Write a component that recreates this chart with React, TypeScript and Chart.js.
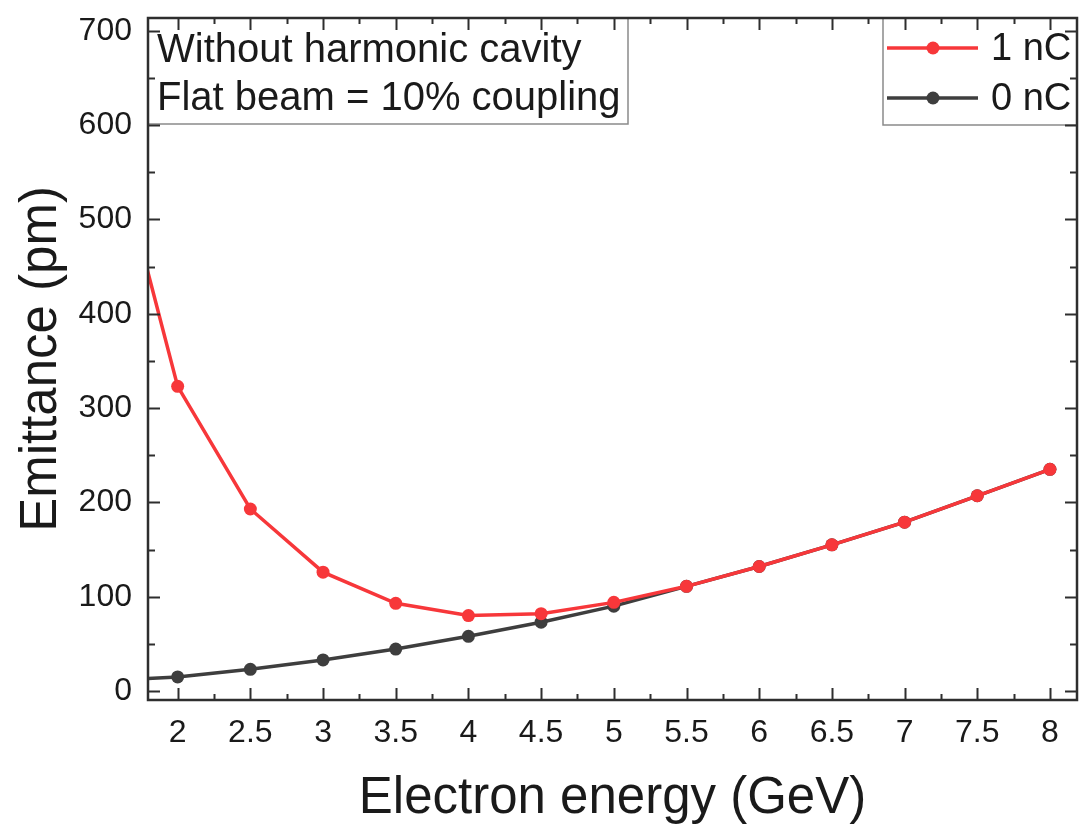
import React, { useEffect, useRef } from "react";
import { Chart, registerables } from "chart.js";

Chart.register(...registerables);

const ENERGY = [1.5, 2, 2.5, 3, 3.5, 4, 4.5, 5, 5.5, 6, 6.5, 7, 7.5, 8];
const EMIT_1NC = [619, 323, 193, 126, 93, 80, 82, 94, 111, 132, 155, 179, 207, 235];
const EMIT_0NC = [11, 15, 23, 33, 44.5, 58, 73, 90, 111, 132, 155, 179, 207, 235];
const SERIES_NAMES = ["1 nC", "0 nC"];
const NOTE_LINES = ["Without harmonic cavity", "Flat beam = 10% coupling"];
const X_TITLE = "Electron energy (GeV)";
const Y_TITLE = "Emittance (pm)";

const RED = "#F7373A";
const GRAY = "#3E3E3E";
const AXIS = "#2E2E2E";
const FONT = "'Liberation Sans', Arial, sans-serif";

const framePlugin = {
  id: "framePlugin",
  afterDraw(chart: any) {
    const { ctx, chartArea } = chart;
    const { left, right, top, bottom } = chartArea;
    const xs = chart.scales.x;
    const ys = chart.scales.y;
    ctx.save();

    // note box
    ctx.fillStyle = "#fff";
    ctx.fillRect(left, top, 628 - left, 124 - top);
    ctx.strokeStyle = "#8a8a8a";
    ctx.lineWidth = 1.5;
    ctx.strokeRect(left, top, 628 - left, 124 - top);
    ctx.fillStyle = "#1a1a1a";
    ctx.font = `40px ${FONT}`;
    ctx.textBaseline = "alphabetic";
    ctx.textAlign = "left";
    NOTE_LINES.forEach((t, i) => ctx.fillText(t, 157, 62 + i * 48));

    // legend box
    const lx = 883;
    ctx.fillStyle = "#fff";
    ctx.fillRect(lx, top, right - lx, 125 - top);
    ctx.strokeStyle = "#8a8a8a";
    ctx.strokeRect(lx, top, right - lx, 125 - top);
    chart.data.datasets.forEach((ds: any, i: number) => {
      const cy = 48 + i * 50;
      ctx.strokeStyle = ds.borderColor;
      ctx.lineWidth = 3.5;
      ctx.beginPath();
      ctx.moveTo(887, cy);
      ctx.lineTo(978, cy);
      ctx.stroke();
      ctx.fillStyle = ds.backgroundColor;
      ctx.beginPath();
      ctx.arc(933, cy, 6.5, 0, Math.PI * 2);
      ctx.fill();
      ctx.fillStyle = "#1a1a1a";
      ctx.font = `38px ${FONT}`;
      ctx.textBaseline = "middle";
      ctx.fillText(ds.label, 991, cy + 2);
    });

    // frame
    ctx.strokeStyle = AXIS;
    ctx.lineWidth = 2.5;
    ctx.strokeRect(left, top, right - left, bottom - top);

    // ticks (inward, mirrored)
    ctx.lineWidth = 2;
    const xStep = 0.25;
    for (let k = Math.ceil(xs.min / xStep); k <= Math.floor(xs.max / xStep); k++) {
      const px = Math.round(xs.getPixelForValue(k * xStep)) + 0.5;
      const len = k % 2 === 0 ? 12 : 6;
      ctx.beginPath();
      ctx.moveTo(px, bottom);
      ctx.lineTo(px, bottom - len);
      ctx.moveTo(px, top);
      ctx.lineTo(px, top + len);
      ctx.stroke();
    }
    const yStep = 50;
    for (let k = Math.ceil(ys.min / yStep); k <= Math.floor(ys.max / yStep); k++) {
      const py = Math.round(ys.getPixelForValue(k * yStep)) + 0.5;
      const len = k % 2 === 0 ? 12 : 7;
      ctx.beginPath();
      ctx.moveTo(left, py);
      ctx.lineTo(left + len, py);
      ctx.moveTo(right, py);
      ctx.lineTo(right - len, py);
      ctx.stroke();
    }
    ctx.restore();
  },
};

function zeroPad(scale: any) {
  scale.paddingLeft = 0;
  scale.paddingRight = 0;
  scale.paddingTop = 0;
  scale.paddingBottom = 0;
}

export default function App() {
  const ref = useRef<HTMLCanvasElement | null>(null);
  useEffect(() => {
    if (!ref.current) return;
    const chart = new Chart(ref.current, {
      type: "line",
      data: {
        datasets: [
          {
            label: SERIES_NAMES[0],
            data: ENERGY.map((x, i) => ({ x, y: EMIT_1NC[i] })),
            borderColor: RED,
            backgroundColor: RED,
            borderWidth: 3.5,
            pointRadius: 6.5,
            pointHoverRadius: 6.5,
            pointBorderWidth: 0,
            tension: 0,
          },
          {
            label: SERIES_NAMES[1],
            data: ENERGY.map((x, i) => ({ x, y: EMIT_0NC[i] })),
            borderColor: GRAY,
            backgroundColor: GRAY,
            borderWidth: 3.5,
            pointRadius: 6.5,
            pointHoverRadius: 6.5,
            pointBorderWidth: 0,
            tension: 0,
          },
        ],
      },
      options: {
        animation: false,
        responsive: false,
        maintainAspectRatio: false,
        layout: { autoPadding: false, padding: { top: 18, right: 2, left: 0, bottom: 0 } },
        plugins: { legend: { display: false }, tooltip: { enabled: false } },
        scales: {
          x: {
            type: "linear",
            min: 1.796,
            max: 8.186,
            grid: { display: false, drawTicks: false },
            border: { display: false },
            ticks: {
              stepSize: 0.5,
              includeBounds: false,
              autoSkip: false,
              maxRotation: 0,
              padding: 14,
              color: "#1a1a1a",
              font: { family: FONT, size: 32 },
              callback: (v: any) => String(Math.round(Number(v) * 10) / 10),
            },
            title: {
              display: true,
              text: X_TITLE,
              color: "#1a1a1a",
              font: { family: FONT, size: 51, lineHeight: 1 },
              padding: 0,
            },
            afterFit(scale: any) {
              scale.height = 124;
              zeroPad(scale);
            },
          },
          y: {
            type: "linear",
            min: -9.5,
            max: 713.5,
            grid: { display: false, drawTicks: false },
            border: { display: false },
            ticks: {
              stepSize: 100,
              includeBounds: false,
              padding: 16,
              color: "#1a1a1a",
              font: { family: FONT, size: 32 },
              callback: (v: any) => String(Math.round(Number(v))),
            },
            title: {
              display: true,
              text: Y_TITLE,
              color: "#1a1a1a",
              font: { family: FONT, size: 51, lineHeight: 1.2 },
              padding: { top: 11, bottom: 0 },
            },
            afterFit(scale: any) {
              scale.width = 148;
              zeroPad(scale);
            },
          },
        },
      },
      plugins: [framePlugin],
    });
    return () => chart.destroy();
  }, []);
  return (
    <div style={{ position: "absolute", left: 0, top: 0, width: 1079, height: 824, background: "#fff" }}>
      <canvas ref={ref} width={1079} height={824} />
    </div>
  );
}
